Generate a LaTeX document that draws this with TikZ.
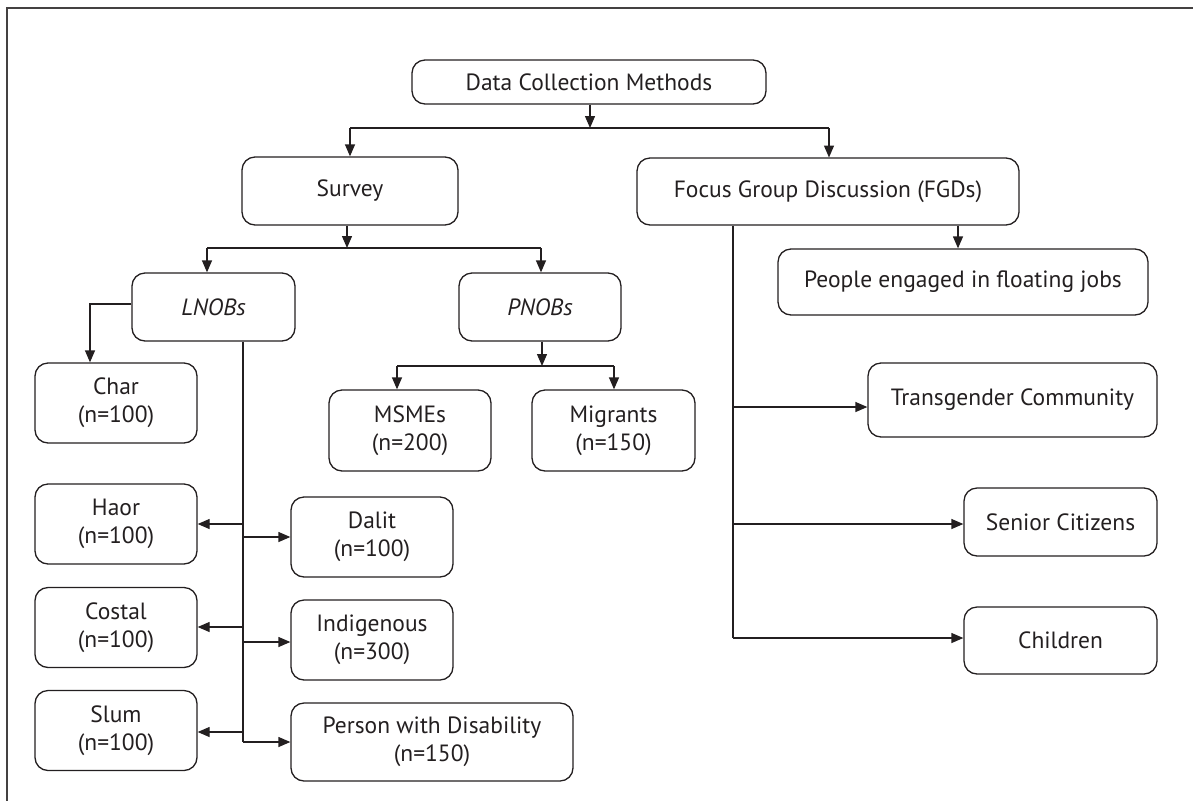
\documentclass[tikz,border=0pt]{standalone}
\usepackage{fontspec}
\setmainfont{PT Sans}
\usetikzlibrary{arrows.meta}
\definecolor{ink}{HTML}{231F20}
\begin{document}
\begin{tikzpicture}[x=1pt,y=-1pt,
  box/.style={draw=ink,line width=1.3pt,rounded corners=13pt,text=ink,align=center,
    inner sep=0pt,font=\fontsize{23.5}{28}\selectfont},
  conn/.style={draw=ink,line width=1.3pt},
  arr/.style={conn,-{Triangle[length=12pt,width=10pt]}}]
\useasboundingbox (0,0) rectangle (1193,801);
\draw[draw=ink!85,line width=2pt] (1193,8) -- (7,8) -- (7,801);
% nodes
\node[box,minimum width=354pt,minimum height=44pt] (dcm) at (589,82) {Data Collection Methods};
\node[box,minimum width=216pt,minimum height=68pt] (survey) at (350,191) {Survey};
\node[box,minimum width=382pt,minimum height=67pt] (fgd) at (828,191.5) {Focus Group Discussion (FGDs)};
\node[box,minimum width=163pt,minimum height=68pt] (lnobs) at (213.5,307) {\itshape LNOBs};
\node[box,minimum width=162pt,minimum height=68pt] (pnobs) at (540,307) {\itshape PNOBs};
\node[box,minimum width=370pt,minimum height=66pt] (people) at (963,282) {People engaged in floating jobs};
\node[box,minimum width=162pt,minimum height=80pt] (char) at (116,403) {Char\\(n=100)};
\node[box,minimum width=162pt,minimum height=80pt] (haor) at (116,524) {Haor\\(n=100)};
\node[box,minimum width=162pt,minimum height=80pt] (costal) at (116,627.5) {Costal\\(n=100)};
\node[box,minimum width=162pt,minimum height=80pt] (slum) at (116,730.5) {Slum\\(n=100)};
\node[box,minimum width=162pt,minimum height=80pt] (dalit) at (372,537) {Dalit\\(n=100)};
\node[box,minimum width=162pt,minimum height=80pt] (indig) at (372,640) {Indigenous\\(n=300)};
\node[box,minimum width=282pt,minimum height=78pt] (pwd) at (432,742) {Person with Disability\\(n=150)};
\node[box,minimum width=162pt,minimum height=81pt] (msmes) at (410,430.5) {MSMEs\\(n=200)};
\node[box,minimum width=163pt,minimum height=81pt] (migr) at (613.5,430.5) {Migrants\\(n=150)};
\node[box,minimum width=289pt,minimum height=74pt] (trans) at (1012.5,400) {Transgender Community};
\node[box,minimum width=193pt,minimum height=68pt] (senior) at (1060.5,522) {Senior Citizens};
\node[box,minimum width=193pt,minimum height=67pt] (child) at (1060.5,640.5) {Children};
% junction coordinates
\coordinate (j1) at (590,128);
\coordinate (j2) at (347,248);
\coordinate (j3) at (542,366);
\coordinate (jc) at (90,304);
\coordinate (lv) at (243,742);
\coordinate (fv) at (733,638);
% top level
\draw[arr] (dcm.south -| j1) -- (j1);
\draw[conn] (350,128) -- (829,128);
\draw[arr] (350,128) -- (survey.north);
\draw[arr] (829,128) -- (829,157.5);
% survey
\draw[arr] (survey.south -| j2) -- (j2);
\draw[conn] (207,248) -- (541,248);
\draw[arr] (207,248) -- (lnobs.north -| 207,0);
\draw[arr] (541,248) -- (pnobs.north -| 541,0);
% LNOBs
\draw[arr] (lnobs.west |- jc) -- (jc) -- (char.north -| jc);
\draw[conn] (lnobs.south -| lv) -- (lv);
\draw[arr] (243,524) -- (haor.east);
\draw[arr] (243,627) -- (costal.east |- 0,627);
\draw[arr] (243,732) -- (slum.east |- 0,732);
\draw[arr] (243,537) -- (dalit.west);
\draw[arr] (243,642) -- (indig.west |- 0,642);
\draw[arr] (lv) -- (pwd.west);
% PNOBs
\draw[arr] (pnobs.south -| j3) -- (j3);
\draw[conn] (397,366) -- (614,366);
\draw[arr] (397,366) -- (msmes.north -| 397,0);
\draw[arr] (614,366) -- (migr.north -| 614,0);
% FGD
\draw[arr] (fgd.south -| 958,0) -- (people.north -| 958,0);
\draw[conn] (fgd.south -| fv) -- (fv);
\draw[arr] (733,407) -- (trans.west |- 0,407);
\draw[arr] (733,524) -- (senior.west |- 0,524);
\draw[arr] (fv) -- (child.west |- fv);
\end{tikzpicture}
\end{document}
